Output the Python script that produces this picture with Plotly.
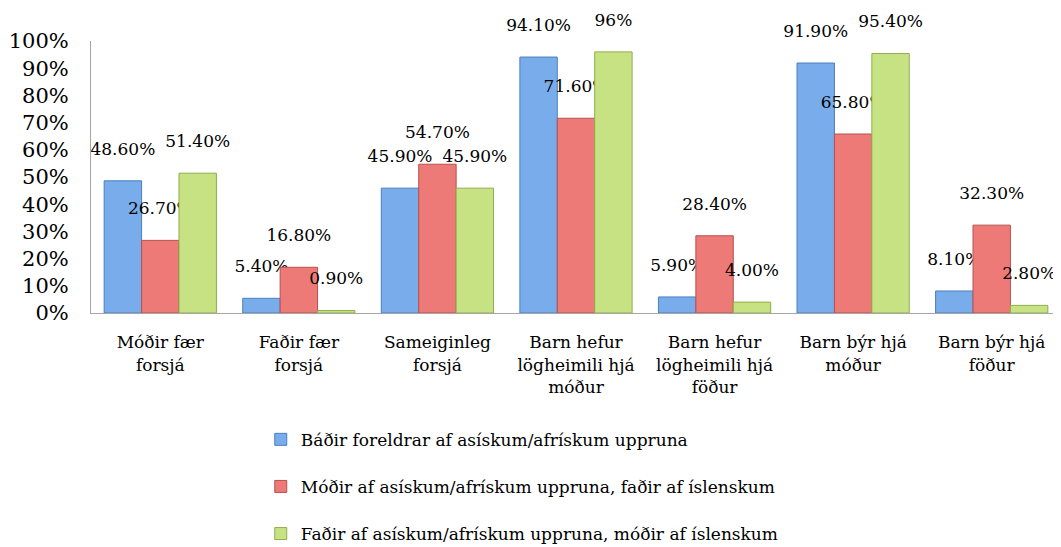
import plotly.graph_objects as go

categories = [
    "Móðir fær<br>forsjá",
    "Faðir fær<br>forsjá",
    "Sameiginleg<br>forsjá",
    "Barn hefur<br>lögheimili hjá<br>móður",
    "Barn hefur<br>lögheimili hjá<br>föður",
    "Barn býr hjá<br>móður",
    "Barn býr hjá<br>föður",
]

series_names = [
    "Báðir foreldrar af asískum/afrískum uppruna",
    "Móðir af asískum/afrískum uppruna, faðir af íslenskum",
    "Faðir af asískum/afrískum uppruna, móðir af íslenskum",
]

both_parents = [0.486, 0.054, 0.459, 0.941, 0.059, 0.919, 0.081]
mother_foreign = [0.267, 0.168, 0.547, 0.716, 0.284, 0.658, 0.323]
father_foreign = [0.514, 0.009, 0.459, 0.96, 0.04, 0.954, 0.028]

both_labels = ["48.60%", "5.40%", "45.90%", "94.10%", "5.90%", "91.90%", "8.10%"]
mother_labels = ["26.70%", "16.80%", "54.70%", "71.60%", "28.40%", "65.80%", "32.30%"]
father_labels = ["51.40%", "0.90%", "45.90%", "96%", "4.00%", "95.40%", "2.80%"]

colors = ["#78acea", "#ee7a77", "#c7e282"]
edges = ["#4a7fc0", "#b9504d", "#8fae4c"]

font = "DejaVu Serif"

fig = go.Figure()
for name, vals, labels, c, e in zip(
    series_names,
    [both_parents, mother_foreign, father_foreign],
    [both_labels, mother_labels, father_labels],
    colors,
    edges,
):
    fig.add_trace(go.Bar(
        x=categories,
        y=vals,
        name=name,
        legendgroup=name,
        text=labels,
        # small blank line under the label lifts it off the bar like Excel does
        texttemplate="%{text}<br><span style='font-size:3px'> </span>",
        textposition="outside",
        constraintext="none",
        cliponaxis=False,
        textfont=dict(family=font, size=17, color="#000000"),
        marker=dict(color=c, line=dict(color=e, width=1)),
    ))

# page body has an 8px margin, so the figure is a bit smaller than the window
fig.update_layout(
    width=1053,
    height=539,
    barmode="group",
    bargap=0.19,
    bargroupgap=0,
    plot_bgcolor="white",
    paper_bgcolor="white",
    font=dict(family=font, size=17, color="#000000"),
    margin=dict(l=83, r=0, t=33, b=234, autoexpand=False),
    showlegend=True,
    legend=dict(
        x=0.175, y=-0.40, xanchor="left", yanchor="top",
        orientation="v",
        tracegroupgap=22,
        font=dict(family=font, size=17),
        itemwidth=30,
    ),
    xaxis=dict(
        showline=True, linecolor="#a6a6a6", linewidth=1,
        ticks="", ticklabelstandoff=14, automargin=False,
        tickfont=dict(family=font, size=17),
    ),
    yaxis=dict(
        range=[0, 1], dtick=0.1, tickformat=".0%",
        showgrid=False, zeroline=False, automargin=False,
        showline=True, linecolor="#a6a6a6", linewidth=1,
        ticks="", ticklabelstandoff=17,
        tickfont=dict(family=font, size=21),
    ),
)

fig.write_html("out.html")
